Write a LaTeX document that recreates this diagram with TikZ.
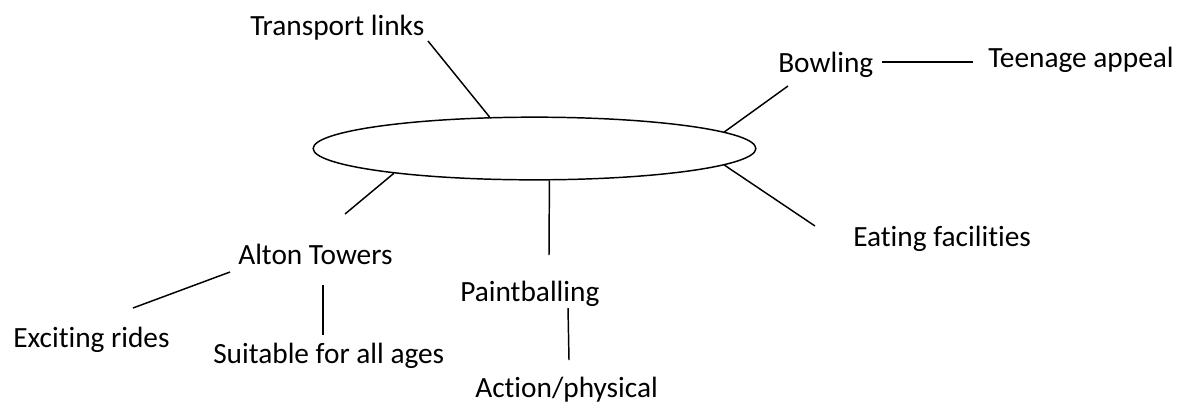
\documentclass[tikz,border=0pt]{standalone}
\usepackage{fontspec}
\setmainfont{Carlito}[Ligatures={TeX,NoCommon}]
\usetikzlibrary{shapes.geometric}

\begin{document}
\begin{tikzpicture}[
    x=0.75pt, y=-0.75pt,
    hubshape/.style={ellipse, draw, line width=1.1pt, minimum width=332pt, minimum height=47pt},
    topic/.style={font=\fontsize{22}{24}\selectfont, inner sep=0pt, anchor=base west},
    link/.style={line width=1.1pt}
]
\useasboundingbox (0,0) rectangle (1184,405);

% Centre
\node[hubshape] (hub) at (534.5,148.5) {};

% Topics
\node[topic] (transport) at (250,35) {Transport links};
\node[topic] (bowling) at (778,72) {Bowling};
\node[topic] (teenage) at (988,67) {Teenage appeal};
\node[topic] (eating) at (853,246) {Eating facilities};
\node[topic] (alton) at (238,264) {Alton Towers};
\node[topic] (paint) at (460,301) {Paintballing};
\node[topic] (rides) at (13,347) {Exciting rides};
\node[topic] (ages) at (213,363) {Suitable for all ages};
\node[topic] (action) at (475,397) {Action/physical};

% Free line ends
\coordinate (transportend) at (428,41);
\coordinate (bowlingend) at (788,86);
\coordinate (eatingend) at (815,226);
\coordinate (paintend) at (549,255);
\coordinate (altonend) at (345,214);
\coordinate (bowlingright) at (882,62);
\coordinate (teenageleft) at (973,62);
\coordinate (altonleft) at (230,272);
\coordinate (ridesright) at (133,308);
\coordinate (altonbelow) at (323,285);
\coordinate (agesabove) at (323,335);
\coordinate (paintbelow) at (568,308);
\coordinate (actionabove) at (569,360);

% Links
\draw[link] (hub.145) -- (transportend);
\draw[link] (hub.5) -- (bowlingend);
\draw[link] (hub.-5) -- (eatingend);
\draw[link] (hub.-65) -- (paintend);
\draw[link] (hub.190) -- (altonend);
\draw[link] (bowlingright) -- (teenageleft);
\draw[link] (altonleft) -- (ridesright);
\draw[link] (altonbelow) -- (agesabove);
\draw[link] (paintbelow) -- (actionabove);

\end{tikzpicture}
\end{document}
